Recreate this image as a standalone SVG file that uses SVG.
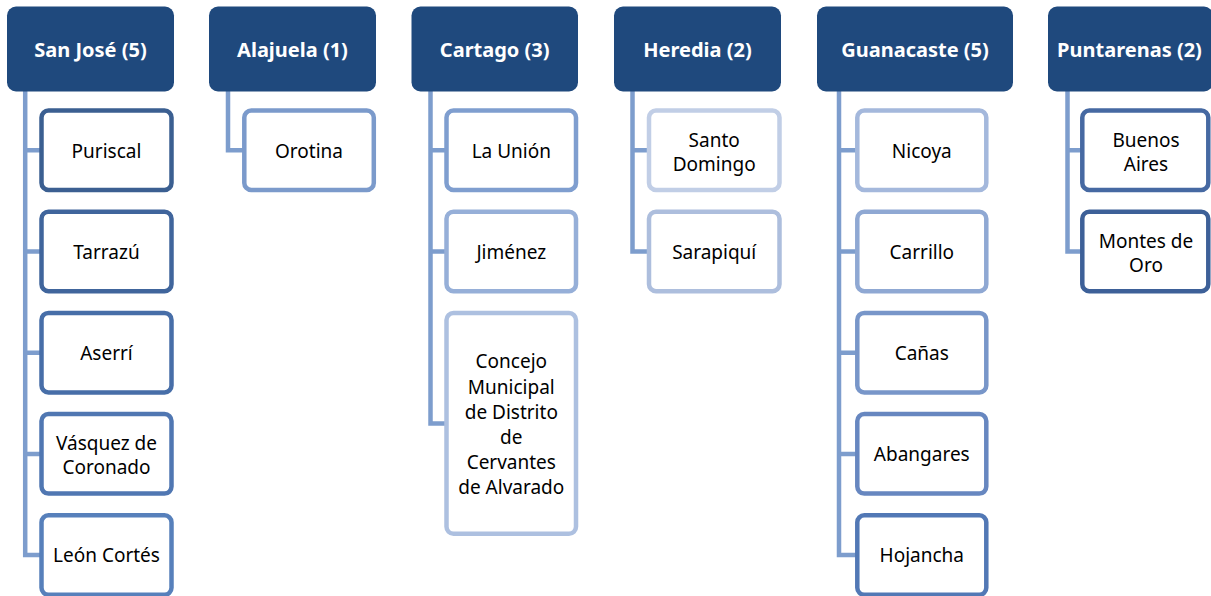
<svg xmlns="http://www.w3.org/2000/svg" width="1211" height="596" viewBox="0 0 1211 596">
<style>
.hdr{fill:#1f497d}
.ht{font-family:"Noto Sans","Open Sans",sans-serif;font-weight:bold;font-size:20px;fill:#ffffff;text-anchor:middle}
.ch{fill:#ffffff;stroke-width:4.5}
.ct{font-family:"Noto Sans","Open Sans",sans-serif;font-size:19px;fill:#000000;text-anchor:middle}
.cn{fill:none;stroke:#7d9dcd;stroke-width:4.5;stroke-linejoin:miter;stroke-linecap:butt}
</style>
<rect width="1211" height="596" fill="#ffffff"/>
<g id="connectors">
<path class="cn" d="M25.2,91 V555.1 H42 M23,150.3 H42 M23,251.5 H42 M23,352.7 H42 M23,453.9 H42"/>
<path class="cn" d="M228,91 V150.3 H244"/>
<path class="cn" d="M430.5,91 V423.4 H447 M428.3,150.3 H447 M428.3,251.5 H447"/>
<path class="cn" d="M632.5,91 V251.5 H649 M630.3,150.3 H649"/>
<path class="cn" d="M839,91 V555.1 H857 M836.8,150.3 H857 M836.8,251.5 H857 M836.8,352.7 H857 M836.8,453.9 H857"/>
<path class="cn" d="M1067.5,91 V251.5 H1082 M1065.3,150.3 H1082"/>
</g>
<g id="h-sanjose"><rect class="hdr" x="7" y="6.5" width="167" height="85" rx="9"/><text class="ht" x="90.5" y="57">San José (5)</text></g>
<g id="h-alajuela"><rect class="hdr" x="209" y="6.5" width="167" height="85" rx="9"/><text class="ht" x="292.5" y="57">Alajuela (1)</text></g>
<g id="h-cartago"><rect class="hdr" x="411.5" y="6.5" width="166.5" height="85" rx="9"/><text class="ht" x="494.7" y="57">Cartago (3)</text></g>
<g id="h-heredia"><rect class="hdr" x="614" y="6.5" width="167" height="85" rx="9"/><text class="ht" x="697.5" y="57">Heredia (2)</text></g>
<g id="h-guanacaste"><rect class="hdr" x="817" y="6.5" width="196" height="85" rx="9"/><text class="ht" x="915" y="57">Guanacaste (5)</text></g>
<g id="h-puntarenas"><rect class="hdr" x="1048" y="6.5" width="165" height="85" rx="9"/><text class="ht" x="1129.5" y="57">Puntarenas (2)</text></g>

<g id="c-puriscal"><rect class="ch" stroke="#3b5f91" x="41.5" y="110.5" width="130" height="79.5" rx="7"/><text class="ct" x="106.5" y="157.5">Puriscal</text></g>
<g id="c-tarrazu"><rect class="ch" stroke="#40659c" x="41.5" y="211.7" width="130" height="79.5" rx="7"/><text class="ct" x="106.5" y="258.7">Tarrazú</text></g>
<g id="c-aserri"><rect class="ch" stroke="#476ea8" x="41.5" y="312.9" width="130" height="79.5" rx="7"/><text class="ct" x="106.5" y="359.9">Aserrí</text></g>
<g id="c-vasquez"><rect class="ch" stroke="#5077b2" x="41.5" y="414.1" width="130" height="79.5" rx="7"/><text class="ct" x="106.5" y="449.9">Vásquez de</text><text class="ct" x="106.5" y="474.4">Coronado</text></g>
<g id="c-leon"><rect class="ch" stroke="#5780bb" x="41.5" y="515.3" width="130" height="79.5" rx="7"/><text class="ct" x="106.5" y="562.3">León Cortés</text></g>

<g id="c-orotina"><rect class="ch" stroke="#7b9acb" x="244.3" y="110.5" width="129.5" height="79.5" rx="7"/><text class="ct" x="309" y="157.5">Orotina</text></g>

<g id="c-launion"><rect class="ch" stroke="#7f9ecf" x="446.5" y="110.5" width="129.5" height="79.5" rx="7"/><text class="ct" x="511.3" y="157.5">La Unión</text></g>
<g id="c-jimenez"><rect class="ch" stroke="#96afd8" x="446.5" y="211.7" width="129.5" height="79.5" rx="7"/><text class="ct" x="511.3" y="258.7">Jiménez</text></g>
<g id="c-concejo"><rect class="ch" stroke="#adc0e0" x="446.5" y="313" width="129.5" height="220.8" rx="7"/>
<text class="ct" x="511.3" y="368.3">Concejo</text><text class="ct" x="511.3" y="393.5">Municipal</text><text class="ct" x="511.3" y="418.7">de Distrito</text><text class="ct" x="511.3" y="443.9">de</text><text class="ct" x="511.3" y="469.1">Cervantes</text><text class="ct" x="511.3" y="494.3">de Alvarado</text></g>

<g id="c-santodomingo"><rect class="ch" stroke="#c1cee6" x="649" y="110.5" width="130.5" height="79.5" rx="7"/><text class="ct" x="714.2" y="146.5">Santo</text><text class="ct" x="714.2" y="171">Domingo</text></g>
<g id="c-sarapiqui"><rect class="ch" stroke="#adbedd" x="649" y="211.7" width="130.5" height="79.5" rx="7"/><text class="ct" x="714.2" y="258.7">Sarapiquí</text></g>

<g id="c-nicoya"><rect class="ch" stroke="#a4b8dc" x="857.3" y="110.5" width="129" height="79.5" rx="7"/><text class="ct" x="921.8" y="157.5">Nicoya</text></g>
<g id="c-carrillo"><rect class="ch" stroke="#8fa8d3" x="857.3" y="211.7" width="129" height="79.5" rx="7"/><text class="ct" x="921.8" y="258.7">Carrillo</text></g>
<g id="c-canas"><rect class="ch" stroke="#7896c9" x="857.3" y="312.9" width="129" height="79.5" rx="7"/><text class="ct" x="921.8" y="359.9">Cañas</text></g>
<g id="c-abangares"><rect class="ch" stroke="#6787c0" x="857.3" y="414.1" width="129" height="79.5" rx="7"/><text class="ct" x="921.8" y="461.1">Abangares</text></g>
<g id="c-hojancha"><rect class="ch" stroke="#5278b5" x="857.3" y="515.3" width="129" height="79.5" rx="7"/><text class="ct" x="921.8" y="562.3">Hojancha</text></g>

<g id="c-buenosaires"><rect class="ch" stroke="#4669a2" x="1082.3" y="110.5" width="126" height="79.5" rx="7"/><text class="ct" x="1146" y="146.5">Buenos</text><text class="ct" x="1146" y="171">Aires</text></g>
<g id="c-montesdeoro"><rect class="ch" stroke="#3d6098" x="1082.3" y="211.7" width="126" height="79.5" rx="7"/><text class="ct" x="1146" y="247.7">Montes de</text><text class="ct" x="1146" y="272.2">Oro</text></g>
</svg>
